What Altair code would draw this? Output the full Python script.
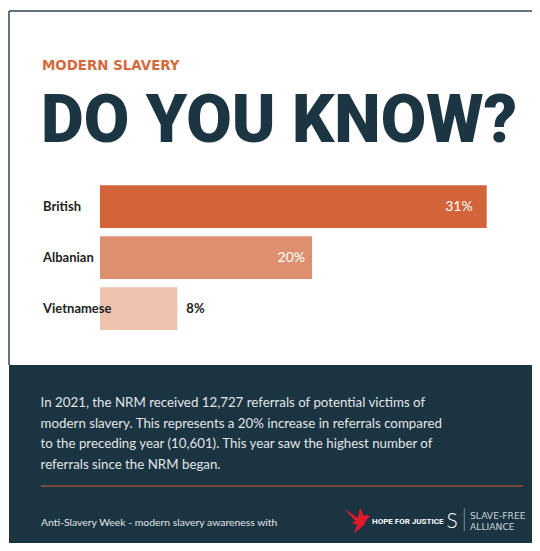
import altair as alt
import pandas as pd

# ---------------- data ----------------
categories = ["British", "Albanian", "Vietnamese"]
share_labels = ["31%", "20%", "8%"]
# bar lengths as drawn in the picture (same units as the 31% bar)
bar_extent = [31, 17, 6.2]
bar_colors = ["#d2643a", "#dd8f70", "#efc2ae"]

kicker = "MODERN SLAVERY"
headline = "DO YOU KNOW?"
body_lines = [
    "In 2021, the NRM received 12,727 referrals of potential victims of",
    "modern slavery. This represents a 20% increase in referrals compared",
    "to the preceding year (10,601). This year saw the highest number of",
    "referrals since the NRM began.",
]
footer_text = "Anti-Slavery Week - modern slavery awareness with"
partner_one = "HOPE FOR JUSTICE"
partner_two = ["SLAVE-FREE", "ALLIANCE"]

# ---------------- styling ----------------
W, H = 524, 535
NAVY = "#1b3442"
TITLE = "#1c3542"
ORANGE = "#d66a3c"
LIGHT = "#e2e5e7"

df = pd.DataFrame({
    "category": categories,
    "extent": bar_extent,
    "color": bar_colors,
    "label": share_labels,
})
one = pd.DataFrame({"k": [0]})

xscale = alt.Scale(domain=[0, 31], range=[92, 478.7])
yscale = alt.Scale(domain=categories, range=[177.3, 322], paddingInner=0.16, paddingOuter=0)

X = alt.X("extent:Q", scale=xscale, axis=None)
Y = alt.Y("category:N", scale=yscale, axis=None, sort=categories)


def deco_text(text, x, y, **kw):
    return alt.Chart(one).mark_text(text=text, align="left", baseline="alphabetic", **kw).encode(
        x=alt.value(x), y=alt.value(y)
    )


layers = []

# dark panel
layers.append(
    alt.Chart(one).mark_rect(color=NAVY).encode(
        x=alt.value(1), x2=alt.value(W), y=alt.value(357), y2=alt.value(H)
    )
)
# frame lines
layers.append(
    alt.Chart(one).mark_rule(color="#2e4756", strokeWidth=1.5).encode(
        x=alt.value(1), x2=alt.value(W), y=alt.value(3)
    )
)
layers.append(
    alt.Chart(one).mark_rule(color="#2e4756", strokeWidth=1.5).encode(
        x=alt.value(1), y=alt.value(3), y2=alt.value(357)
    )
)

# header
layers.append(deco_text(kicker, 34, 62.3, font="DejaVu Sans", fontWeight="bold", fontSize=13.4, color=ORANGE))
layers.append(
    deco_text(headline, 33, 133.7, font="Roboto", fontWeight=900, fontSize=66, color=TITLE)
)

# bars
layers.append(
    alt.Chart(df).mark_bar().encode(x=X, y=Y, color=alt.Color("color:N", scale=None))
)
# category labels
layers.append(
    alt.Chart(df).mark_text(align="left", baseline="middle", font="Lato", fontWeight="bold",
                            fontSize=13, color="#222222").encode(
        x=alt.value(35), y=Y, text="category:N"
    )
)
# value labels
layers.append(
    alt.Chart(df).transform_filter(alt.datum.category == "British").mark_text(
        align="right", baseline="middle", dx=-14, font="Lato", fontSize=14, color="white"
    ).encode(x=X, y=Y, text="label:N")
)
layers.append(
    alt.Chart(df).transform_filter(alt.datum.category == "Albanian").mark_text(
        align="right", baseline="middle", dx=-7, font="Lato", fontSize=14, color="white"
    ).encode(x=X, y=Y, text="label:N")
)
layers.append(
    alt.Chart(df).transform_filter(alt.datum.category == "Vietnamese").mark_text(
        align="left", baseline="middle", dx=9, font="Lato", fontWeight="bold", fontSize=13, color="#222222"
    ).encode(x=X, y=Y, text="label:N")
)

# body copy
for i, line in enumerate(body_lines):
    layers.append(deco_text(line, 32.6, 399.3 + i * 20.45, font="Lato", fontSize=13.3, color=LIGHT))

# separator
layers.append(
    alt.Chart(one).mark_rule(color="#7b4a36", strokeWidth=2).encode(
        x=alt.value(33), x2=alt.value(514.7), y=alt.value(478)
    )
)

# footer
layers.append(deco_text(footer_text, 33, 517.7, font="Lato", fontSize=10.4, color=LIGHT))

# Hope for Justice bird mark
bird = ("M -1 -0.95 L 0.05 -0.2 L 0.25 -1 L 0.5 -0.35 L 0.75 -0.45 L 1 -0.3 L 0.75 -0.1 "
        "L 0.55 0.35 L -0.25 1 L 0.0 0.35 L -0.45 0.15 L -0.1 0.05 Z")
layers.append(
    alt.Chart(one).mark_point(shape=bird, filled=True, color="#e0192b", opacity=1, size=676).encode(
        x=alt.value(349), y=alt.value(512.5)
    )
)
layers.append(
    deco_text(partner_one, 364, 516.3, font="Roboto", fontWeight="bold", fontSize=8, color="white")
)
# Slave-Free Alliance mark
layers.append(deco_text("S", 438.5, 519.7, font="Lato", fontWeight=300, fontSize=21, color="white"))
layers.append(
    alt.Chart(one).mark_rule(color="#7d8d96", strokeWidth=1).encode(
        x=alt.value(456.3), y=alt.value(500), y2=alt.value(523)
    )
)
layers.append(deco_text(partner_two[0], 462, 511, font="DejaVu Sans", fontSize=9.2, color="#c9d1d5"))
layers.append(deco_text(partner_two[1], 462, 521.8, font="DejaVu Sans", fontSize=9.2, color="#c9d1d5"))

chart = alt.layer(*layers).properties(
    width=W, height=H, autosize=alt.AutoSizeParams(type="none"), padding=0, background="white"
).configure_view(stroke=None)

chart.save("out.html", embed_options={"renderer": "svg", "actions": False})
